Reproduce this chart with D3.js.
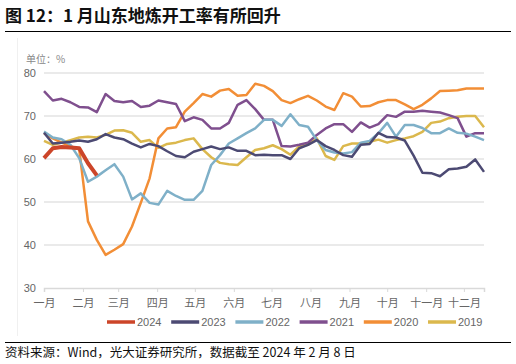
<!DOCTYPE html>
<html><head><meta charset="utf-8">
<script src="https://cdn.jsdelivr.net/npm/d3@7"></script>
<style>
body{margin:0;background:#fff;}
svg{display:block;font-family:"Noto Sans CJK SC","Noto Sans",sans-serif;}
</style></head>
<body><svg id="c" width="516" height="364"></svg>
<script>
const monthLabels = ["一月","二月","三月","四月","五月","六月","七月","八月","九月","十月","十一月","十二月"];
const yTicks = [30,40,50,60,70,80];
const seriesNames = ["2024","2023","2022","2021","2020","2019"];
const seriesColors = ["#cc4529","#4c4a73","#7fb0c8","#7f4f8e","#f28e36","#dbb84d"];
const s2024 = [60.2,62.5,62.8,62.7,62.5,59.0,56.2];
const s2023 = [66.1,63.6,63.8,64.0,64.3,64.0,64.6,65.8,65.0,64.6,63.6,62.7,63.5,63.0,61.8,60.7,60.4,61.7,62.3,62.9,62.3,62.7,61.9,61.9,60.9,61.0,60.9,60.9,60.0,62.5,63.3,64.4,63.0,62.1,60.9,60.5,63.3,63.5,66.1,65.1,65.0,64.3,60.8,56.8,56.7,56.0,57.6,57.8,58.2,59.9,57.0];
const s2022 = [66.4,65.0,64.6,63.3,60.2,54.7,55.9,57.4,58.8,55.9,50.6,52.0,49.8,49.4,52.6,51.4,50.5,50.5,52.6,58.6,60.9,63.6,64.8,66.0,67.1,69.1,69.1,67.7,70.4,67.9,67.5,64.4,62.1,61.5,61.3,61.6,63.8,64.2,66.0,68.4,65.2,67.9,67.9,67.2,66.0,66.0,67.1,66.1,65.9,65.2,64.4];
const s2021 = [75.8,73.6,74.0,73.2,72.1,72.0,70.9,75.1,73.5,73.2,73.5,72.1,72.4,73.6,73.2,72.8,68.8,69.7,69.1,67.1,67.1,68.4,72.6,73.7,71.6,69.1,69.1,63.0,62.9,63.3,63.8,65.6,67.1,68.1,68.1,66.3,68.5,67.3,68.1,70.2,69.8,71.0,71.0,71.2,71.0,70.8,70.2,69.5,65.2,66.0,66.0];
const s2020 = [66.0,64.8,63.8,63.0,62.3,45.5,41.2,37.7,38.9,40.2,44.3,49.8,55.5,64.8,67.1,67.4,71.0,73.0,75.1,74.5,75.9,76.3,74.7,74.9,77.5,77.0,75.8,73.7,73.0,73.9,74.7,73.6,72.2,71.4,75.3,74.5,72.2,72.3,73.2,73.7,73.7,72.7,71.6,72.6,74.1,75.8,75.9,76.0,76.4,76.4,76.4];
const s2019 = [64.2,63.3,63.8,64.4,65.0,65.2,65.0,65.6,66.6,66.7,66.1,64.0,64.4,62.6,63.5,63.8,64.4,64.8,62.3,60.4,59.1,58.8,58.6,60.4,62.1,62.5,63.2,62.3,61.0,62.9,63.3,64.8,60.7,59.8,63.0,63.6,63.6,64.0,64.5,63.8,64.4,64.8,65.3,66.3,68.4,68.7,69.5,69.8,70.0,70.0,67.4];
const allSeries = [s2024,s2023,s2022,s2021,s2020,s2019];

const svg = d3.select("#c");
const start = new Date(2023,0,1);
const dayMs = 86400000;
const weekDate = i => new Date(start.getTime() + i*7*dayMs);
const x = d3.scaleTime().domain([start, weekDate(50)]).range([44,484]);
const y = d3.scaleLinear().domain([30,80]).range([288,73]);

// title
svg.append("text").attr("x",5).attr("y",22).attr("font-size",17).attr("font-weight","bold").attr("fill","#111")
  .text("图 12：1 月山东地炼开工率有所回升");
svg.append("line").attr("x1",5).attr("x2",511).attr("y1",31.5).attr("y2",31.5).attr("stroke","#000").attr("stroke-width",1);
// faint frame
svg.append("line").attr("x1",17.5).attr("x2",17.5).attr("y1",38).attr("y2",336).attr("stroke","#f0f0f0");
// unit
svg.append("text").attr("x",26).attr("y",63).attr("font-size",10).attr("fill","#888").text("单位：%");

// grid
svg.append("g").selectAll("line").data(yTicks.filter(d=>d>30)).join("line")
  .attr("x1",44).attr("x2",484).attr("y1",d=>y(d)).attr("y2",d=>y(d))
  .attr("stroke","#e3e3e3").attr("stroke-width",1.5);
// y labels
svg.append("g").selectAll("text").data(yTicks).join("text")
  .attr("x",36).attr("y",d=>y(d)+4).attr("text-anchor","end").attr("font-size",11).attr("fill","#666")
  .attr("font-family","'Liberation Sans',Arial,sans-serif").text(d=>d);

// x axis
const months = d3.range(12).map(m=>new Date(2023,m,1));
const xAxis = d3.axisBottom(x).tickValues(months).tickSize(4).tickFormat((d,i)=>monthLabels[i]);
const gx = svg.append("g").attr("transform","translate(0,288)").call(xAxis);
gx.select(".domain").attr("stroke","#d9d9d9").attr("stroke-width",1.5);
gx.selectAll(".tick line").attr("stroke","#d9d9d9");
gx.selectAll(".tick text").attr("font-size",11).attr("fill","#666").attr("dy","1.1em")
  .attr("font-family","'Noto Sans CJK SC',sans-serif");

// lines
const line = d3.line().x((d,i)=>x(weekDate(i))).y(d=>y(d));
const order = [5,4,3,2,1,0];
order.forEach(k=>{
  svg.append("path").datum(allSeries[k]).attr("d",line).attr("fill","none")
    .attr("stroke",seriesColors[k]).attr("stroke-width",k===0?4:2.5).attr("stroke-linejoin","round");
});

// legend
const lg = svg.append("g");
seriesNames.forEach((n,k)=>{
  const lx = 107 + k*64.2;
  lg.append("line").attr("x1",lx).attr("x2",lx+28).attr("y1",322).attr("y2",322)
    .attr("stroke",seriesColors[k]).attr("stroke-width",3.5);
  lg.append("text").attr("x",lx+30).attr("y",326).attr("font-size",11).attr("fill","#666")
    .attr("font-family","'Liberation Sans',Arial,sans-serif").text(n);
});

// footer
svg.append("line").attr("x1",5).attr("x2",511).attr("y1",342.5).attr("y2",342.5).attr("stroke","#000").attr("stroke-width",1);
svg.append("text").attr("x",5).attr("y",357).attr("font-size",12.5).attr("fill","#111")
  .text("资料来源：Wind，光大证券研究所，数据截至 2024 年 2 月 8 日");
</script></body></html>
